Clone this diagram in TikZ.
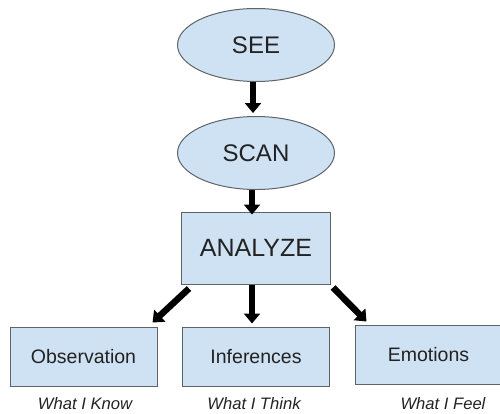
\documentclass[tikz,border=0pt]{standalone}
\usepackage{fontspec}
\setmainfont{Liberation Sans}
\usepackage{tikz}
\usetikzlibrary{shapes,arrows.meta}

\definecolor{stepfill}{HTML}{CFE2F3}
\definecolor{stepline}{HTML}{5F6368}
\definecolor{steptext}{HTML}{222222}

\tikzset{
  oval/.style={ellipse,draw=stepline,line width=1pt,fill=stepfill,inner sep=0pt,
    minimum width=157pt,minimum height=73pt,text=steptext,font=\fontsize{24}{28}\selectfont},
  bigbox/.style={rectangle,draw=stepline,line width=1pt,fill=stepfill,inner sep=0pt,
    minimum width=149pt,minimum height=72pt,text=steptext,font=\fontsize{25}{29}\selectfont},
  smallbox/.style={rectangle,draw=stepline,line width=1pt,fill=stepfill,inner sep=0pt,
    minimum width=147pt,minimum height=59pt,text=steptext,font=\fontsize{19.5}{23}\selectfont},
  caption/.style={inner sep=0pt,text=steptext,font=\fontsize{16.6}{20}\selectfont\itshape},
  fatarrow/.style={line width=6.5pt,-{Triangle[width=16pt,length=10pt]}}
}

\begin{document}
\begin{tikzpicture}[x=1pt,y=-1pt]
  \useasboundingbox (0,0) rectangle (500,413);
  \node[oval] (see) at (256,45) {SEE};
  \node[oval] (scan) at (256,153) {SCAN};
  \node[bigbox] (analyze) at (256,248) {ANALYZE};
  \node[smallbox] (observation) at (83.5,356.5) {Observation};
  \node[smallbox] (inferences) at (256,356.5) {Inferences};
  \node[smallbox] (emotions) at (428.5,354.5) {Emotions};
  \node[caption] (know) at (85,404) {What I Know};
  \node[caption] (think) at (254,404) {What I Think};
  \node[caption] (feel) at (443,404) {What I Feel};

  \draw[fatarrow] ([xshift=-3pt]see.south) -- ([xshift=-3pt,yshift=3pt]scan.north);
  \draw[fatarrow] ([xshift=-4pt]scan.south) -- ([xshift=-4pt,yshift=-3pt]analyze.north);
  \draw[fatarrow] ([shift={(8,4)}]analyze.south west) -- ([shift={(-5,-4)}]observation.north east);
  \draw[fatarrow] ([xshift=-4pt]analyze.south) -- ([xshift=-4pt,yshift=3pt]inferences.north);
  \draw[fatarrow] ([shift={(2,3)}]analyze.south east) -- ([shift={(12,-3)}]emotions.north west);
\end{tikzpicture}
\end{document}
